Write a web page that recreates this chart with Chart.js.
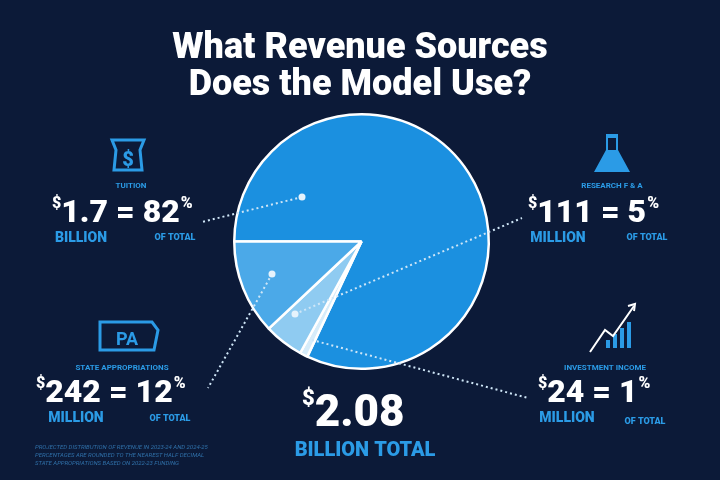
<!DOCTYPE html>
<html>
<head>
<meta charset="utf-8">
<script src="https://cdn.jsdelivr.net/npm/chart.js@4.4.0/dist/chart.umd.min.js"></script>
<style>
  html, body { margin: 0; padding: 0; background: #0c1a38; }
  #wrap { width: 720px; height: 480px; position: relative; }
</style>
</head>
<body>
<div id="wrap"><canvas id="pie"></canvas></div>
<script>
// Revenue sources (percent of total)
const sources = ['Tuition', 'Investment Income', 'Research F & A', 'State Appropriations'];
const shares = [82, 1, 5, 12];
const amounts = ['1.7', '24', '111', '242'];
const units = ['BILLION', 'MILLION', 'MILLION', 'MILLION'];
const sliceColors = ['#1b90e0', '#d6ecfa', '#8fcbf1', '#4ba9e8'];

const BLUE = '#2b9be6';
const FONT = 'Roboto, "DejaVu Sans", sans-serif';

function txt(ctx, s, x, y, size, color, align, weight) {
  ctx.font = (weight || '900') + ' ' + size + 'px ' + FONT;
  ctx.fillStyle = color;
  ctx.textAlign = align || 'left';
  ctx.textBaseline = 'alphabetic';
  ctx.fillText(s, x, y);
  return ctx.measureText(s).width;
}

// "$1.7 = 82%" style figure, starting at x with baseline y
function figure(ctx, amount, pct, x, y, size) {
  let cx = x;
  cx += txt(ctx, '$', cx, y - size * 0.45, size * 0.5, '#fff');
  cx += txt(ctx, amount + ' = ' + pct, cx, y, size, '#fff');
  txt(ctx, '%', cx + 1, y - size * 0.45, size * 0.5, '#fff');
}

function dotted(ctx, x1, y1, x2, y2, dot) {
  ctx.save();
  ctx.strokeStyle = '#cfe6f7';
  ctx.lineWidth = 2;
  ctx.setLineDash([2, 3]);
  ctx.beginPath(); ctx.moveTo(x1, y1); ctx.lineTo(x2, y2); ctx.stroke();
  ctx.restore();
  if (dot) {
    ctx.fillStyle = '#e6f3fc';
    ctx.beginPath(); ctx.arc(x1, y1, 3.5, 0, Math.PI * 2); ctx.fill();
  }
}

const overlay = {
  id: 'overlay',
  afterDraw(chart) {
    const ctx = chart.ctx;
    ctx.save();
    // title
    txt(ctx, 'What Revenue Sources', 360, 58, 36, '#fff', 'center');
    txt(ctx, 'Does the Model Use?', 360, 95, 36, '#fff', 'center');

    // leader lines
    dotted(ctx, 302, 197, 202, 222, true);
    dotted(ctx, 272, 274, 208, 388, true);
    dotted(ctx, 295, 314, 522, 218, true);
    dotted(ctx, 312, 340, 528, 398, false);

    // tuition
    ctx.strokeStyle = BLUE; ctx.lineWidth = 3;
    ctx.beginPath();
    ctx.moveTo(112, 140); ctx.lineTo(144, 140); ctx.lineTo(140, 150); ctx.lineTo(142, 170);
    ctx.lineTo(114, 170); ctx.lineTo(116, 150); ctx.closePath(); ctx.stroke();
    txt(ctx, '$', 128, 166, 20, BLUE, 'center');
    txt(ctx, 'TUITION', 131, 188, 8, BLUE, 'center', 'bold');
    figure(ctx, amounts[0], shares[0], 52, 222, 32);
    txt(ctx, units[0], 81, 242, 14, BLUE, 'center');
    txt(ctx, 'OF TOTAL', 175, 240, 9, BLUE, 'center');

    // research
    ctx.fillStyle = BLUE;
    ctx.beginPath();
    ctx.moveTo(606, 134); ctx.lineTo(618, 134); ctx.lineTo(618, 150); ctx.lineTo(630, 172);
    ctx.lineTo(594, 172); ctx.lineTo(606, 150); ctx.closePath(); ctx.fill();
    ctx.fillStyle = '#0c1a38'; ctx.fillRect(608, 138, 8, 12);
    txt(ctx, 'RESEARCH F & A', 612, 188, 8, BLUE, 'center', 'bold');
    figure(ctx, amounts[2], shares[2], 528, 222, 32);
    txt(ctx, units[2], 558, 242, 14, BLUE, 'center');
    txt(ctx, 'OF TOTAL', 647, 240, 9, BLUE, 'center');

    // state appropriations
    ctx.strokeStyle = BLUE; ctx.lineWidth = 3;
    ctx.beginPath();
    ctx.moveTo(100, 322); ctx.lineTo(152, 322); ctx.lineTo(158, 330); ctx.lineTo(154, 350);
    ctx.lineTo(100, 350); ctx.closePath(); ctx.stroke();
    txt(ctx, 'PA', 127, 345, 18, BLUE, 'center', 'bold');
    txt(ctx, 'STATE APPROPRIATIONS', 122, 370, 8, BLUE, 'center', 'bold');
    figure(ctx, amounts[3], shares[3], 36, 402, 32);
    txt(ctx, units[3], 76, 422, 14, BLUE, 'center');
    txt(ctx, 'OF TOTAL', 170, 421, 9, BLUE, 'center');

    // investment income
    ctx.fillStyle = BLUE;
    [[606, 340, 14], [613, 334, 20], [620, 328, 26], [627, 322, 32]].forEach(b => ctx.fillRect(b[0], b[1], 4, b[2] - 6));
    ctx.strokeStyle = '#fff'; ctx.lineWidth = 2;
    ctx.beginPath(); ctx.moveTo(590, 352); ctx.lineTo(605, 330); ctx.lineTo(613, 336); ctx.lineTo(634, 306); ctx.stroke();
    ctx.beginPath(); ctx.moveTo(628, 306); ctx.lineTo(635, 304); ctx.lineTo(634, 311); ctx.stroke();
    txt(ctx, 'INVESTMENT INCOME', 605, 370, 8, BLUE, 'center', 'bold');
    figure(ctx, amounts[1], shares[1], 538, 402, 32);
    txt(ctx, units[1], 567, 422, 14, BLUE, 'center');
    txt(ctx, 'OF TOTAL', 645, 424, 9, BLUE, 'center');

    // total
    let tx = 302;
    tx += txt(ctx, '$', tx, 405, 22, '#fff');
    txt(ctx, '2.08', tx, 426, 44, '#fff');
    txt(ctx, 'BILLION TOTAL', 365, 456, 20, BLUE, 'center');

    // footnote
    ctx.font = 'italic 6px ' + FONT;
    ctx.fillStyle = '#2f6fa8'; ctx.textAlign = 'left';
    ctx.fillText('PROJECTED DISTRIBUTION OF REVENUE IN 2023-24 AND 2024-25', 35, 449);
    ctx.fillText('PERCENTAGES ARE ROUNDED TO THE NEAREST HALF DECIMAL', 35, 457);
    ctx.fillText('STATE APPROPRIATIONS BASED ON 2022-23 FUNDING', 35, 465);
    ctx.restore();
  }
};

new Chart(document.getElementById('pie'), {
  type: 'pie',
  data: {
    labels: sources,
    datasets: [{
      data: shares,
      backgroundColor: sliceColors,
      borderColor: '#ffffff',
      borderWidth: 2.5
    }]
  },
  options: {
    responsive: true,
    maintainAspectRatio: false,
    animation: false,
    rotation: 270,
    layout: { padding: { left: 233, right: 230, top: 113, bottom: 110 } },
    plugins: { legend: { display: false }, tooltip: { enabled: false } }
  },
  plugins: [overlay]
});
</script>
</body>
</html>
